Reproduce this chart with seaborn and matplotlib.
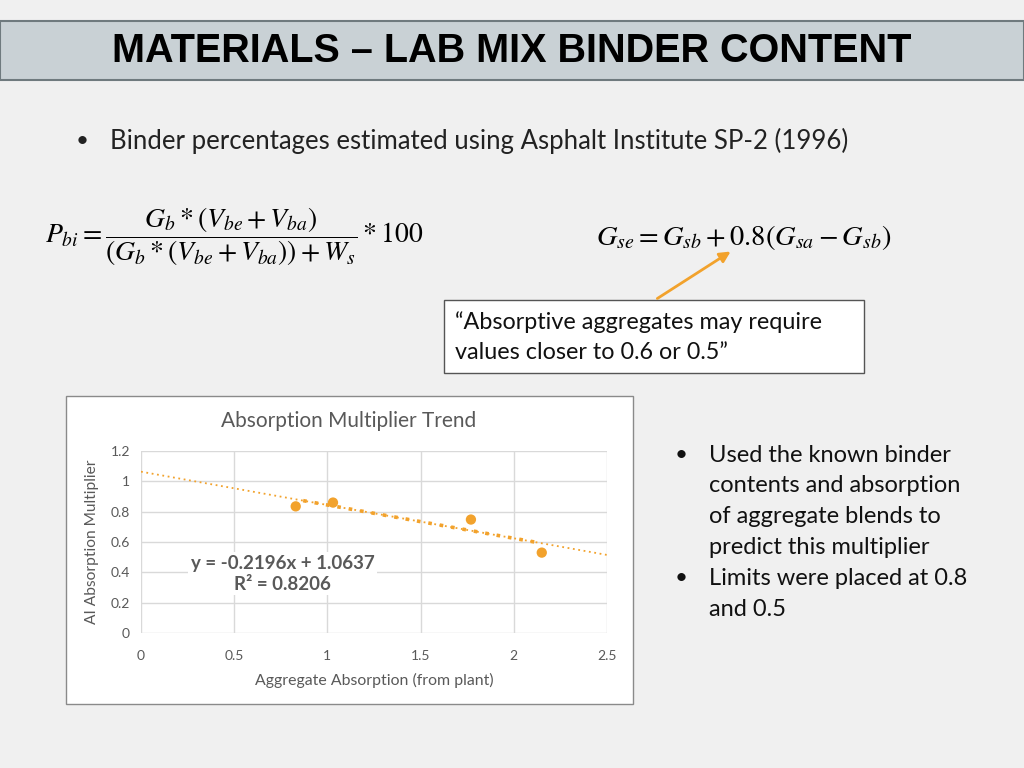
import numpy as np
import pandas as pd
import matplotlib.pyplot as plt
from matplotlib.patches import Rectangle, FancyArrowPatch
import seaborn as sns

sns.set_theme(style='white')
plt.rcParams['font.family'] = ['Lato', 'DejaVu Sans']
plt.rcParams['mathtext.fontset'] = 'stix'

# Data
absorption = [0.83, 1.03, 1.77, 2.15]
multiplier = [0.835, 0.86, 0.748, 0.53]
slope, intercept = -0.2196, 1.0637
r_squared = 0.8206
trend_x = [0.0, 2.5]
fit_x = [0.87, 2.13]
x_ticks = [0, 0.5, 1, 1.5, 2, 2.5]
x_tick_labels = ['0', '0.5', '1', '1.5', '2', '2.5']
y_ticks = [0, 0.2, 0.4, 0.6, 0.8, 1, 1.2]
y_tick_labels = ['0', '0.2', '0.4', '0.6', '0.8', '1', '1.2']

df = pd.DataFrame({'absorption': absorption, 'multiplier': multiplier})
trend = pd.DataFrame({'x': trend_x, 'y': [slope * v + intercept for v in trend_x]})
fit = pd.DataFrame({'x': fit_x, 'y': [slope * v + intercept for v in fit_x]})

orange = '#f2a22c'
grey_txt = '#595959'

W, H = 1024, 768
fig = plt.figure(figsize=(10.24, 7.68), dpi=100)
fig.patch.set_facecolor('#f0f0f0')

def fx(px):
    return px / W

def fy(py):
    return 1 - py / H

# Title bar
fig.patches.append(Rectangle((fx(0), fy(80)), 1, (80 - 21) / H, transform=fig.transFigure,
                             facecolor='#c9d1d5', edgecolor='#6f7a7e', lw=1.5, zorder=0))
fig.text(fx(512), fy(51), 'MATERIALS \u2013 LAB MIX BINDER CONTENT', ha='center', va='center',
         fontsize=28.5, fontweight='bold', color='black',
         family=['Liberation Sans Narrow', 'Liberation Sans', 'DejaVu Sans'])

# Top bullet
fig.text(fx(76), fy(141), '\u2022', ha='left', va='center', fontsize=16, color='#222222')
fig.text(fx(110), fy(141), 'Binder percentages estimated using Asphalt Institute SP-2 (1996)',
         ha='left', va='center', fontsize=18.5, color='#222222')

# Equations
fig.text(fx(45), fy(237),
         r'$P_{bi} = \dfrac{G_b * (V_{be} + V_{ba})}{\left(G_b * (V_{be} + V_{ba})\right) + W_s} * 100$',
         ha='left', va='center', fontsize=20, color='black')
fig.text(fx(596), fy(238), r'$G_{se} = G_{sb} + 0.8(G_{sa} - G_{sb})$',
         ha='left', va='center', fontsize=20.5, color='black')

# Callout box and arrow
fig.patches.append(Rectangle((fx(444), fy(373)), (864 - 444) / W, (373 - 300) / H,
                             transform=fig.transFigure, facecolor='white',
                             edgecolor='#555555', lw=1, zorder=1))
fig.text(fx(455), fy(337), '\u201cAbsorptive aggregates may require\nvalues closer to 0.6 or 0.5\u201d',
         ha='left', va='center', fontsize=16.8, color='#111111', linespacing=1.5, zorder=2)
fig.patches.append(FancyArrowPatch((fx(655), fy(300)), (fx(733), fy(250)),
                                   transform=fig.transFigure, arrowstyle='-|>',
                                   mutation_scale=16, color=orange, lw=2, zorder=2))

# Right bullets
right_lines = ['Used the known binder', 'contents and absorption', 'of aggregate blends to',
               'predict this multiplier', 'Limits were placed at 0.8', 'and 0.5']
for i, line in enumerate(right_lines):
    yy = 455 + i * 30.8
    fig.text(fx(709), fy(yy), line, ha='left', va='center', fontsize=17, color='#111111')
for yy in [455, 578]:
    fig.text(fx(675), fy(yy), '\u2022', ha='left', va='center', fontsize=16, color='#111111')

# Chart frame
fig.patches.append(Rectangle((fx(66), fy(704)), (633 - 66) / W, (704 - 396) / H,
                             transform=fig.transFigure, facecolor='white',
                             edgecolor='#8a8a8a', lw=1, zorder=1))
fig.text(fx(349), fy(421), 'Absorption Multiplier Trend', ha='center', va='center',
         fontsize=15, color=grey_txt, zorder=3)

ax = fig.add_axes([fx(141), fy(633), (607 - 141) / W, (633 - 451) / H], zorder=2)
ax.set_facecolor('white')

sns.lineplot(data=trend, x='x', y='y', ax=ax, color=orange, lw=1.3, linestyle=(0, (1, 2)), zorder=3)
sns.lineplot(data=fit, x='x', y='y', ax=ax, color=orange, lw=2.6, linestyle=(0, (1, 2.2)), zorder=3)
sns.scatterplot(data=df, x='absorption', y='multiplier', ax=ax, color=orange, s=55,
                edgecolor='none', zorder=4)

ax.set_xlim(0, 2.5)
ax.set_ylim(0, 1.2)
ax.set_xticks(x_ticks)
ax.set_xticklabels(x_tick_labels)
ax.set_yticks(y_ticks)
ax.set_yticklabels(y_tick_labels)
ax.grid(True, color='#d9d9d9', lw=1)
ax.set_axisbelow(True)
for s in ax.spines.values():
    s.set_visible(False)
ax.tick_params(axis='both', length=0, labelsize=10, labelcolor=grey_txt)
ax.tick_params(axis='x', pad=12)
ax.tick_params(axis='y', pad=8)
ax.set_xlabel('Aggregate Absorption (from plant)', fontsize=11.4, color=grey_txt, labelpad=8)
ax.set_ylabel('AI Absorption Multiplier', fontsize=11.2, color=grey_txt, labelpad=8)

ax.text(0.76, 0.39, f'y = {slope}x + {intercept}\nR\u00b2 = {r_squared}', ha='center', va='center',
        fontsize=13.5, fontweight='bold', color=grey_txt, linespacing=1.25, zorder=5,
        bbox=dict(facecolor='white', edgecolor='none', pad=2))

fig.savefig('out.png', dpi=100, facecolor=fig.get_facecolor())
